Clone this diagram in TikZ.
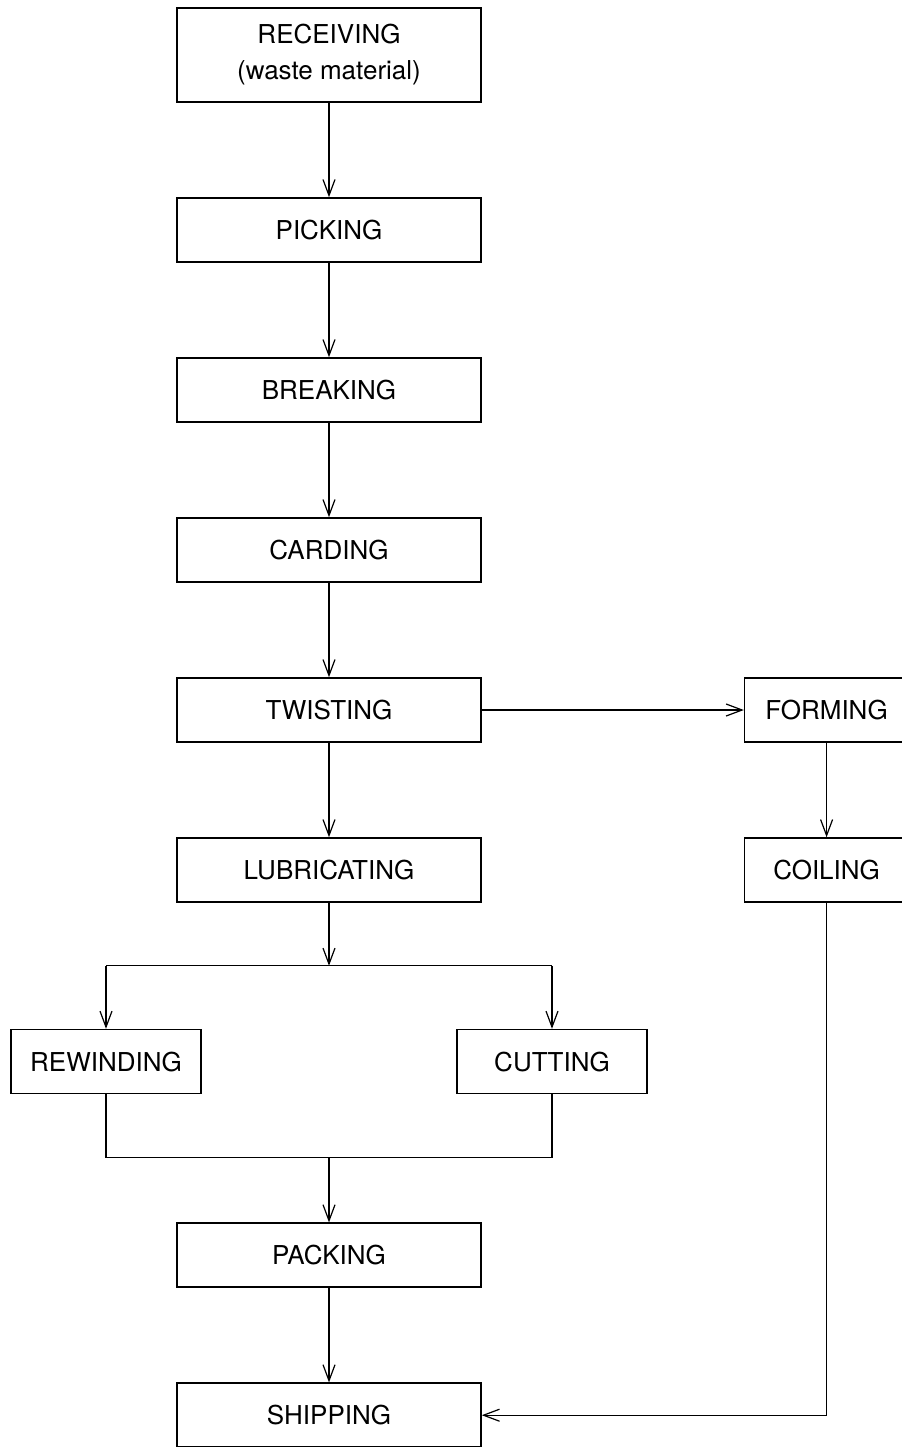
\documentclass[tikz,border=0pt]{standalone}
\usepackage{fontspec}
\setmainfont{TeX Gyre Heros}
\usepackage{tikz}
\usetikzlibrary{arrows.meta, positioning}

\begin{document}
\begin{tikzpicture}[
  x=0.5pt, y=-0.5pt,
  node distance = 47.2pt,
  box/.style = {
    rectangle, draw=black, line width=0.8pt,
    minimum width=152pt, minimum height=32pt,
    align=center, inner sep=3pt,
    font=\fontsize{13}{18}\selectfont
  },
  sidebox/.style = {
    box, minimum width=95.2pt
  },
  arr/.style = {-{Straight Barb[length=8pt, width=6pt]}, line width=0.6pt},
  ln/.style = {line width=0.6pt}
]
\useasboundingbox (0,0) rectangle (901,1447);

\node[box, minimum height=47pt] (recv) at (329,55) {RECEIVING\\(waste material)};
\node[box, below=of recv]  (pick)  {PICKING};
\node[box, below=of pick]  (brk)   {BREAKING};
\node[box, below=of brk]   (card)  {CARDING};
\node[box, below=of card]  (twist) {TWISTING};
\node[box, below=of twist] (lube)  {LUBRICATING};
\node[sidebox, minimum width=82pt, right=131pt of twist] (form) {FORMING};
\node[sidebox, minimum width=82pt, below=of form] (coil) {COILING};

\coordinate[below=31.5pt of lube] (split);
\node[sidebox, below=31.5pt of split, xshift=-111.5pt] (rewind) {REWINDING};
\node[sidebox, below=31.5pt of split, xshift=111.5pt]  (cut)    {CUTTING};
\coordinate[below=31.5pt of rewind] (joinL);
\coordinate (join) at (joinL -| lube);
\node[box, below=32.5pt of join] (pack) {PACKING};
\node[box, below=of pack] (ship) {SHIPPING};

\draw[arr] (recv)  -- (pick);
\draw[arr] (pick)  -- (brk);
\draw[arr] (brk)   -- (card);
\draw[arr] (card)  -- (twist);
\draw[arr] (twist) -- (lube);
\draw[arr] (twist) -- (form);
\draw[arr] (form)  -- (coil);
\draw[arr] (lube)  -- (split);
\draw[ln] (split -| rewind) -- (split -| cut);
\draw[arr] (split -| rewind) -- (rewind);
\draw[arr] (split -| cut) -- (cut);
\draw[ln] (rewind) |- (join) -| (cut);
\draw[arr] (join)  -- (pack);
\draw[arr] (pack)  -- (ship);
\draw[arr] (coil.south) |- (ship.east);
\end{tikzpicture}
\end{document}
